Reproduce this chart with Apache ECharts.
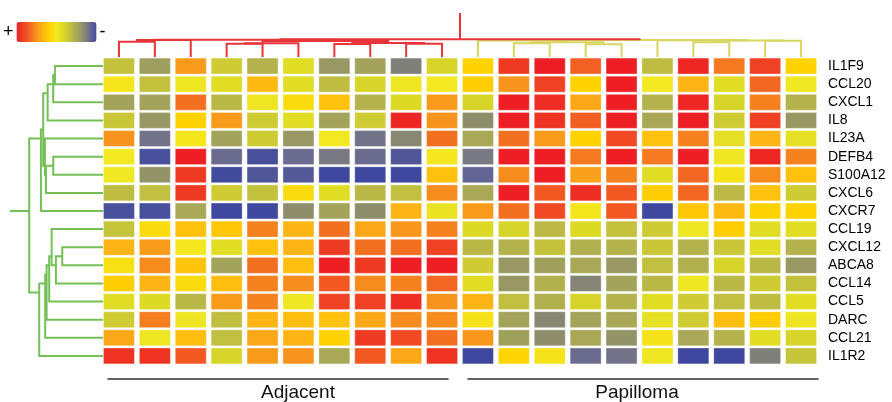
<!DOCTYPE html>
<html>
<head>
<meta charset="utf-8">
<script src="https://cdn.jsdelivr.net/npm/echarts@6/dist/echarts.min.js"></script>
<style>
  html, body { margin: 0; background: #fff; }
  #chart { width: 892px; height: 402px; }
</style>
</head>
<body>
<div id="chart"></div>
<script>
// genes (rows, top to bottom) and samples (columns, left to right)
const genes = ['IL1F9', 'CCL20', 'CXCL1', 'IL8', 'IL23A', 'DEFB4', 'S100A12', 'CXCL6', 'CXCR7',
  'CCL19', 'CXCL12', 'ABCA8', 'CCL14', 'CCL5', 'DARC', 'CCL21', 'IL1R2']
const samples = ['A1', 'A2', 'A3', 'A4', 'A5', 'A6', 'A7', 'A8', 'A9', 'A10',
  'P1', 'P2', 'P3', 'P4', 'P5', 'P6', 'P7', 'P8', 'P9', 'P10']
const sampleGroup = ['Adjacent', 'Adjacent', 'Adjacent', 'Adjacent', 'Adjacent', 'Adjacent', 'Adjacent', 'Adjacent', 'Adjacent', 'Adjacent',
  'Papilloma', 'Papilloma', 'Papilloma', 'Papilloma', 'Papilloma', 'Papilloma', 'Papilloma', 'Papilloma', 'Papilloma', 'Papilloma']
const groups = ['Adjacent', 'Papilloma']

// relative expression, + = red, - = blue (one row per gene)
const expr = [
  [-1.0, -1.7, 1.4, -0.8, -1.3, -0.4, -1.8, -1.6, -2.2, -0.6, 0.5, 2.6, 3.0, 2.1, 3.0, -1.1, 2.9, 1.8, 2.5, 0.5],
  [0.1, -1.0, -0.1, -0.4, 0.9, -0.4, -1.1, -0.6, -0.1, 0.0, 0.6, 1.5, 2.5, 0.5, 3.0, 0.0, 1.0, -0.4, 2.0, -0.05],
  [-1.6, -1.6, 1.9, -1.2, -0.1, 0.3, 0.8, -1.3, -0.5, 1.4, -0.6, 3.0, 2.8, 1.2, 3.0, -1.3, 2.9, -0.6, 1.7, -1.3],
  [-0.9, -1.8, 0.5, 1.4, -0.8, -0.4, -1.6, -0.8, 2.9, 1.5, -2.0, 3.0, 2.7, 2.1, 3.0, -1.5, 3.0, -0.8, 2.5, -1.8],
  [1.5, -2.4, 0.1, -1.6, -0.8, -1.8, 0.0, -2.4, -2.1, 1.9, -1.5, 1.9, 1.4, 0.5, 2.4, 0.8, 1.7, -0.3, 1.0, -0.3],
  [0.0, -2.9, 3.0, -2.5, -2.9, -2.5, -2.3, -2.5, -2.8, 0.05, -2.3, 3.0, 3.0, 1.8, 3.0, 1.8, 3.0, -0.1, 2.9, 1.7],
  [-0.05, -1.9, 2.6, -2.95, -2.8, -2.75, -3.0, -3.0, -3.0, 0.8, -2.6, 1.6, 3.0, 1.3, 1.7, -0.4, 2.0, 0.15, 1.6, 0.8],
  [-1.1, -1.05, 2.6, -0.8, -1.0, 0.3, -0.4, -1.2, -1.05, 1.6, -1.5, 3.0, 2.2, 2.8, 2.2, 0.6, 2.0, -1.15, 0.8, -0.8],
  [-2.9, -2.9, -1.5, -3.0, -3.0, -2.0, -1.6, -2.0, 1.0, -0.2, 1.4, 1.9, 2.4, 0.1, 2.2, -3.0, 0.7, 0.9, 0.5, 0.5],
  [-0.95, 0.3, 0.8, 0.7, 1.7, 1.0, 1.9, 1.2, 1.45, 1.7, -0.5, -0.6, -1.15, -0.5, -1.0, -0.8, -0.1, 0.6, -0.4, -0.4],
  [1.0, 1.4, 0.05, -0.4, 0.8, 1.0, 2.6, 1.9, 1.9, 2.5, -1.2, -1.3, -1.0, -1.35, -1.3, -0.9, -1.3, -0.9, -0.4, -1.3],
  [0.2, 1.6, 0.75, -1.6, 1.9, 0.85, 3.0, 2.6, 3.0, 3.0, -0.8, -1.8, -1.65, -1.5, -1.8, -1.05, -1.35, -0.6, -1.2, -1.8],
  [0.6, 1.0, 0.3, 0.85, 1.7, 1.6, 2.2, 1.6, 1.7, 2.0, -0.4, -1.8, -1.35, -2.15, -1.6, -1.2, -0.1, -1.2, -0.8, -1.0],
  [-0.4, -0.5, -1.2, 1.4, 1.7, -0.1, 2.5, 2.5, 2.8, 1.5, 1.0, -1.05, -1.35, -0.6, -1.3, -0.4, -0.8, -1.05, -1.1, -0.4],
  [-0.8, 1.75, -0.1, -1.05, 1.0, 0.85, 0.8, 1.2, 1.6, 1.6, 0.15, -1.6, -2.1, -1.6, -1.5, -0.3, -0.8, 0.85, 0.6, -0.1],
  [1.2, -0.1, 0.85, -1.05, 1.2, 1.0, 0.5, 2.6, 2.4, 1.9, 1.45, -1.65, -2.0, -1.5, -1.9, 0.15, -1.5, -1.3, -0.4, -0.6],
  [2.7, 2.7, 2.2, -0.6, 1.4, 1.5, -1.5, 2.2, 1.2, 2.7, -3.0, 0.45, 0.15, -2.5, -2.4, -0.1, -3.0, -3.0, -2.2, -0.95]
]

// dendrogram merges: [nodeA, nodeB, height]; leaves are 0..n-1, merge k creates node n+k
const rowMerges = [
  [0, 1, 0.651], [17, 2, 0.674], [18, 3, 0.750], [5, 6, 0.674], [20, 7, 0.773],
  [4, 21, 0.787], [19, 22, 0.810], [23, 8, 0.841],
  [10, 11, 0.552], [25, 12, 0.638], [9, 26, 0.696], [27, 13, 0.729], [28, 14, 0.764],
  [29, 15, 0.783], [30, 16, 0.864],
  [24, 31, 1.0]
]
const colMerges = [
  [0, 1, 0.864], [20, 2, 0.96], [3, 4, 0.75], [22, 5, 0.774], [6, 7, 0.734],
  [8, 9, 0.75], [24, 25, 0.79], [23, 26, 0.904], [21, 27, 0.98],
  [11, 12, 0.774], [13, 14, 0.718], [29, 30, 0.83], [10, 31, 0.93], [16, 17, 0.83],
  [18, 19, 0.915], [33, 34, 0.93], [15, 35, 0.95], [32, 36, 0.96],
  [28, 37, 1.0]
]

const palette = ['#3F489E', '#6B6B90', '#8E8E6C', '#A8A857', '#C4C23C', '#DCDA24', '#F2E922',
  '#FFD300', '#FDB515', '#F7941D', '#F26722', '#EF4123', '#EE1F24']
const ROW_AXIS_MAX = 1.26
const COL_AXIS_MAX = 2.49

// 把合并表转成折线段 [posA, hA, posB, hB, h, group, pos]，节点位置取叶子的平均位置
function dendroLinks (merges, nLeaves, leafGroup) {
  let sum = []
  let cnt = []
  let hgt = []
  let grp = []
  for (let i = 0; i < nLeaves; i++) {
    sum.push(i)
    cnt.push(1)
    hgt.push(0)
    grp.push(leafGroup ? leafGroup[i] : '')
  }
  return merges.map(([a, b, h]) => {
    let g = grp[a] === grp[b] ? grp[a] : 'mixed'
    let link = [sum[a] / cnt[a], hgt[a], sum[b] / cnt[b], hgt[b], h, g]
    sum.push(sum[a] + sum[b])
    cnt.push(cnt[a] + cnt[b])
    hgt.push(h)
    grp.push(g)
    link.push(sum[sum.length - 1] / cnt[cnt.length - 1])
    return link
  })
}

const rowLinks = dendroLinks(rowMerges, genes.length)
const colLinks = dendroLinks(colMerges, samples.length, sampleGroup)

let cells = []
expr.forEach((row, r) => {
  row.forEach((v, c) => cells.push([c, r, v]))
})

const chart = echarts.init(document.getElementById('chart'))

// 分组标签下方的横线
function groupAxis (gridIndex, name, padding) {
  return {
    type: 'category',
    gridIndex: gridIndex,
    data: [''],
    name: name,
    nameLocation: 'middle',
    nameGap: 5,
    nameTextStyle: { fontSize: 19, color: '#111', fontFamily: 'Liberation Sans', padding: padding },
    axisLine: { lineStyle: { color: '#333', width: 1.5 } },
    axisTick: { show: false },
    axisLabel: { show: false }
  }
}

const option = {
  animation: false,
  grid: [
    { left: 101, top: 57, width: 718, height: 308 },
    { left: 10, top: 57, width: 93, height: 308 },
    { left: 101, top: 13, width: 718, height: 44 },
    { left: 108, top: 378, width: 340, height: 1 },
    { left: 468, top: 378, width: 350, height: 1 }
  ],
  xAxis: [
    { type: 'category', gridIndex: 0, data: samples, show: false },
    { type: 'value', gridIndex: 1, min: 0, max: ROW_AXIS_MAX, inverse: true, show: false },
    { type: 'value', gridIndex: 2, min: -0.5, max: samples.length - 0.5, show: false },
    groupAxis(3, groups[0], [0, 0, 0, 40]),
    groupAxis(4, groups[1], [0, 12, 0, 0])
  ],
  yAxis: [
    {
      type: 'category', gridIndex: 0, data: genes, inverse: true, position: 'right',
      axisLine: { show: false }, axisTick: { show: false },
      axisLabel: { interval: 0, margin: 9, fontSize: 14, color: '#000', fontFamily: 'Liberation Sans' }
    },
    { type: 'value', gridIndex: 1, min: -0.5, max: genes.length - 0.5, inverse: true, show: false },
    { type: 'value', gridIndex: 2, min: 0, max: COL_AXIS_MAX, show: false },
    { type: 'value', gridIndex: 3, show: false },
    { type: 'value', gridIndex: 4, show: false }
  ],
  visualMap: {
    type: 'continuous',
    min: -3,
    max: 3,
    dimension: 2,
    seriesIndex: 0,
    orient: 'horizontal',
    inverse: true,
    left: -12,
    top: 7,
    itemWidth: 20,
    itemHeight: 80,
    calculable: false,
    hoverLink: false,
    text: ['+', '-'],
    textGap: 3,
    textStyle: { fontSize: 18, color: '#000', fontFamily: 'Liberation Sans' },
    inRange: { color: palette }
  },
  series: [
    {
      name: 'heatmap',
      type: 'custom',
      xAxisIndex: 0,
      yAxisIndex: 0,
      data: cells,
      encode: { x: 0, y: 1 },
      renderItem: function (params, api) {
        let c = api.coord([api.value(0), api.value(1)])
        let s = api.size([1, 1])
        let w = s[0] * 0.864
        let h = s[1] * 0.88
        return {
          type: 'rect',
          shape: { x: c[0] - w / 2, y: c[1] - h / 2, width: w, height: h },
          style: { fill: api.visual('color'), stroke: 'rgba(255,255,255,0.35)', lineWidth: 1 }
        }
      }
    },
    {
      name: 'row tree',
      type: 'custom',
      xAxisIndex: 1,
      yAxisIndex: 1,
      data: rowLinks.map(l => l.slice(0, 5)),
      encode: { x: 1, y: 0 },
      renderItem: function (params, api) {
        let pa = api.value(0)
        let ha = api.value(1)
        let pb = api.value(2)
        let hb = api.value(3)
        let h = api.value(4)
        let pts = [[ha, pa], [h, pa], [h, pb], [hb, pb]].map(p => api.coord(p))
        let style = { stroke: '#74C057', lineWidth: 2, fill: null }
        let children = [{ type: 'polyline', shape: { points: pts }, style: style }]
        if (params.dataIndex === rowLinks.length - 1) {
          // 根节点的横线
          let mid = rowLinks[params.dataIndex][6]
          children.push({ type: 'polyline', shape: { points: [api.coord([h, mid]), api.coord([ROW_AXIS_MAX, mid])] }, style: style })
        }
        return { type: 'group', children: children }
      }
    },
    {
      name: 'column tree',
      type: 'custom',
      xAxisIndex: 2,
      yAxisIndex: 2,
      data: colLinks.map(l => l.slice(0, 5)),
      renderItem: function (params, api) {
        let pa = api.value(0)
        let ha = api.value(1)
        let pb = api.value(2)
        let hb = api.value(3)
        let h = api.value(4)
        let g = colLinks[params.dataIndex][5]
        let color = g === 'Papilloma' ? '#D8D560' : '#E8353A'
        let pts = [[pa, ha], [pa, h], [pb, h], [pb, hb]].map(p => api.coord(p))
        let style = { stroke: color, lineWidth: 2, fill: null }
        let children = [{ type: 'polyline', shape: { points: pts }, style: style }]
        if (params.dataIndex === colLinks.length - 1) {
          let mid = colLinks[params.dataIndex][6]
          children.push({ type: 'polyline', shape: { points: [api.coord([mid, h]), api.coord([mid, COL_AXIS_MAX])] }, style: style })
        }
        return { type: 'group', children: children }
      }
    }
  ]
}

chart.setOption(option)
</script>
</body>
</html>
